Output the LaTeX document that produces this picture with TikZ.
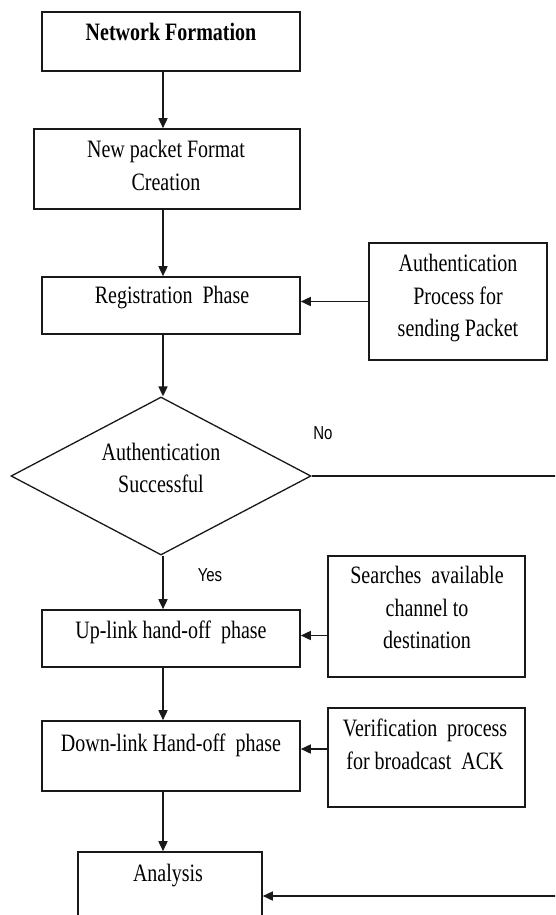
\documentclass[tikz,border=0pt]{standalone}
\usepackage{fontspec}
\setmainfont{Liberation Serif}
\newfontfamily\sansf{Liberation Sans}
\usetikzlibrary{arrows.meta,shapes.geometric}
\newcommand\vtext[1]{\scalebox{1}[1.25]{\begin{tabular}{@{}c@{}}#1\end{tabular}}}
\begin{document}
\begin{tikzpicture}[x=1pt,y=-1pt,
  box/.style={draw=black!90, line width=1.6pt, inner sep=0pt},
  txt/.style={font=\fontsize{20}{26}\selectfont, inner sep=0pt},
  lab/.style={font=\sansf\fontsize{15}{18}\selectfont, inner sep=0pt},
  arr/.style={draw=black!90, line width=1.6pt, -{Triangle[length=10pt,width=9pt]}},
  ln/.style={draw=black!90, line width=1.6pt}]
\clip (0,0) rectangle (555,915);
\fill[white] (0,0) rectangle (555,915);
% boxes
\node[box, minimum width=258, minimum height=59] (nf) at (171,41.5) {};
\node[box, minimum width=266, minimum height=80] (np) at (167,169) {};
\node[box, minimum width=258, minimum height=57] (reg) at (171,305.5) {};
\node[box, minimum width=178, minimum height=117] (auth) at (458,301.5) {};
\node[box, line width=1.3pt, diamond, aspect=1.9, minimum width=300, minimum height=158] (dia) at (161,476) {};
\node[box, minimum width=258, minimum height=57] (up) at (171,638.5) {};
\node[box, minimum width=197, minimum height=121] (srch) at (426.5,616.5) {};
\node[box, minimum width=258, minimum height=70] (down) at (171,756) {};
\node[box, minimum width=197, minimum height=99] (ver) at (426.5,757.5) {};
\node[box, minimum width=184, minimum height=88] (ana) at (170,896) {};
% texts
\node[txt] (nft) at (171,34) {\vtext{\bfseries Network Formation}};
\node[txt] (npt) at (166,167.5) {\vtext{New packet Format\\Creation}};
\node[txt] (regt) at (172,297) {\vtext{Registration\ \ Phase}};
\node[txt] (autht) at (458,297.5) {\vtext{Authentication\\Process for\\sending Packet}};
\node[txt] (diat) at (161,470) {\vtext{Authentication\\Successful}};
\node[txt] (upt) at (171,632) {\vtext{Up-link hand-off\ \ phase}};
\node[txt] (srcht) at (427,609.5) {\vtext{Searches\ \ available\\channel to\\destination}};
\node[txt] (downt) at (171,745) {\vtext{Down-link Hand-off\ \ phase}};
\node[txt] (vert) at (425,746.5) {\vtext{Verification\ \ process\\for broadcast\ \ ACK}};
\node[txt] (anat) at (168,875) {\vtext{Analysis}};
\node[lab] (no) at (323,435) {\vtext{No}};
\node[lab] (yes) at (210,577) {\vtext{Yes}};
% connectors
\coordinate (ax) at (163,0);
\coordinate (rt) at (562,0);
\coordinate (upin) at ([yshift=3pt]up.east);
\coordinate (downin) at ([yshift=7pt]down.east);
\draw[arr] (nf.south -| ax) -- (np.north -| ax);
\draw[arr] (np.south -| ax) -- (reg.north -| ax);
\draw[arr] (reg.south -| ax) -- (dia.north -| ax);
\draw[arr] (dia.south -| ax) -- (up.north -| ax);
\draw[arr] (up.south -| ax) -- (down.north -| ax);
\draw[arr] (down.south -| ax) -- (ana.north -| ax);
\draw[arr] (auth.west) -- (auth.west -| reg.east);
\draw[arr] (srch.west |- upin) -- (upin);
\draw[arr] (ver.west |- downin) -- (downin);
\draw[arr] (dia.east) -- (dia.east -| rt) -- (ana.east -| rt) -- (ana.east);
\end{tikzpicture}
\end{document}
